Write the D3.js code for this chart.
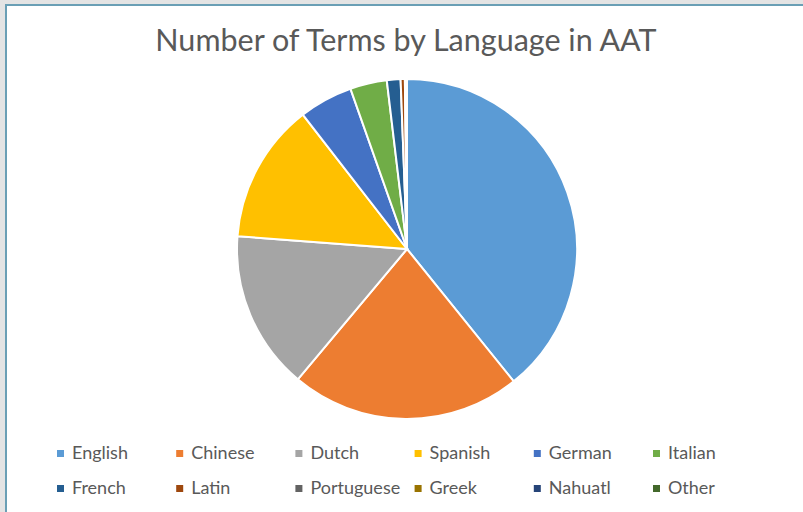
<!DOCTYPE html>
<html lang="en">
<head>
	<meta charset="utf-8">
	<title>Number of Terms by Language in AAT</title>
	<script src="https://d3js.org/d3.v7.min.js"></script>
	<style>
		html, body { margin: 0; padding: 0; background: #e4e4e4; }
		#chart { position: absolute; left: 5px; top: 4px; width: 798px; height: 508px;
			background: #fff; border-left: 2px solid #6a9fb5; border-top: 2px solid #6a9fb5; box-sizing: border-box; }
		svg { position: absolute; left: 0; top: 0; }
		text { font-family: Lato, "Noto Sans", sans-serif; fill: #595959; }
	</style>
</head>
<body>
	<div id="chart"></div>
	<script>
		// Data (percent share)
		const languages = ["English", "Chinese", "Dutch", "Spanish", "German", "Italian",
			"French", "Latin", "Portuguese", "Greek", "Nahuatl", "Other"];
		const shares = [39.2, 21.9, 15.1, 13.3, 5.1, 3.5, 1.3, 0.4, 0.1, 0.05, 0.03, 0.02];
		const colors = ["#5b9bd5", "#ed7d31", "#a5a5a5", "#ffc000", "#4472c4", "#70ad47",
			"#255e91", "#9e480e", "#636363", "#997300", "#264478", "#43682b"];

		const data = languages.map((name, i) => ({ name, value: shares[i] }));

		const width = 803, height = 512;
		const svg = d3.select("body").append("svg")
			.attr("width", width)
			.attr("height", height);

		// Title
		svg.append("text")
			.attr("x", 406)
			.attr("y", 51)
			.attr("text-anchor", "middle")
			.attr("font-size", "30.5px")
			.text("Number of Terms by Language in AAT");

		// Pie
		const color = d3.scaleOrdinal().domain(languages).range(colors);
		const pie = d3.pie().value(d => d.value).sort(null);
		const arc = d3.arc().innerRadius(0).outerRadius(170);

		svg.append("g")
			.attr("transform", "translate(407,249)")
			.selectAll("path")
			.data(pie(data))
			.join("path")
			.attr("d", arc)
			.attr("fill", d => color(d.data.name))
			.attr("stroke", "#fff")
			.attr("stroke-width", 2);

		// Legend
		const legendX = d3.scalePoint().domain(d3.range(6)).range([57, 653]);
		const legendY = [450, 485];

		const item = svg.append("g")
			.selectAll("g")
			.data(languages)
			.join("g")
			.attr("transform", (d, i) => `translate(${legendX(i % 6)},${legendY[Math.floor(i / 6)]})`);

		item.append("rect")
			.attr("width", 7)
			.attr("height", 7)
			.attr("fill", d => color(d));

		item.append("text")
			.attr("x", 15)
			.attr("y", 9)
			.attr("font-size", "18px")
			.text(d => d);
	</script>
</body>
</html>
